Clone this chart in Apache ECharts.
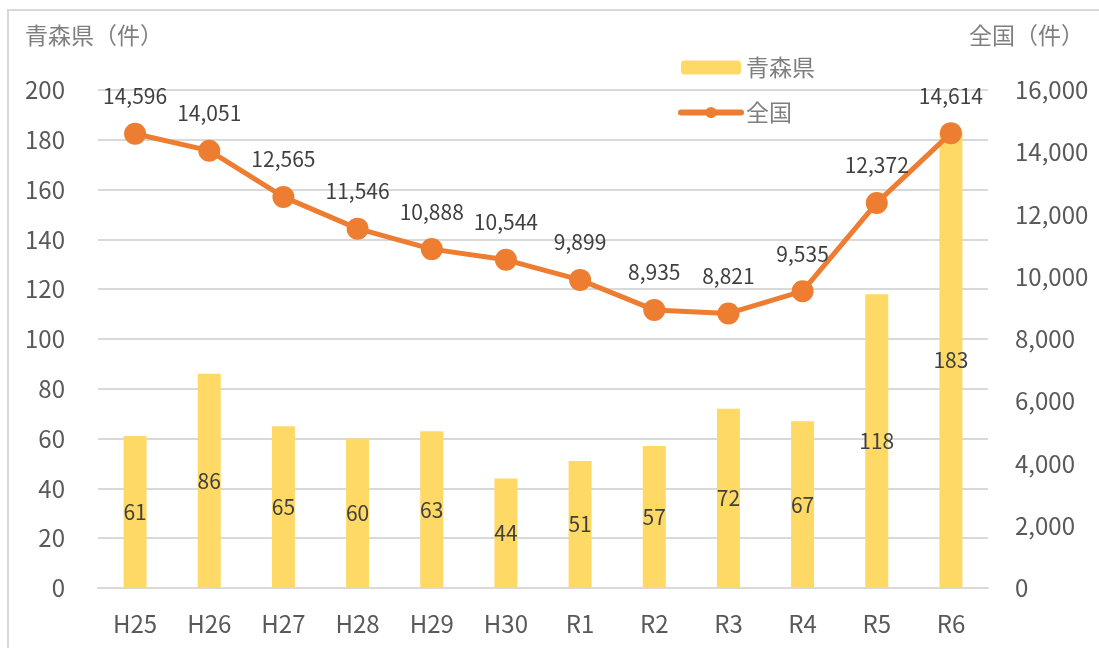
<!DOCTYPE html>
<html lang="ja">
<head>
    <meta charset="UTF-8">
    <title>青森県と全国の件数</title>
    <script src="https://cdn.jsdelivr.net/npm/echarts@6/dist/echarts.min.js"></script>
    <style>
        html, body { margin: 0; padding: 0; background: #fff; }
        #main { width: 1099px; height: 648px; }
    </style>
</head>
<body>
<div id="main"></div>
<script type="text/javascript">
    // 年度
    var years = ['H25', 'H26', 'H27', 'H28', 'H29', 'H30', 'R1', 'R2', 'R3', 'R4', 'R5', 'R6'];
    // 青森県（件）
    var aomori = [61, 86, 65, 60, 63, 44, 51, 57, 72, 67, 118, 183];
    // 全国（件）
    var zenkoku = [14596, 14051, 12565, 11546, 10888, 10544, 9899, 8935, 8821, 9535, 12372, 14614];

    var FONT = '"Noto Sans CJK JP", "Noto Sans", sans-serif';

    var myChart = echarts.init(document.getElementById('main'));

    var option = {
        backgroundColor: '#fff',
        textStyle: { fontFamily: FONT },
        animation: false,
        graphic: [
            {
                type: 'rect',
                shape: { x: 8, y: 10, width: 1200, height: 800 },
                style: { fill: 'none', stroke: '#d9d9d9', lineWidth: 2 },
                silent: true
            },
            {
                type: 'text', left: 25, top: 24,
                style: { text: '青森県（件）', fill: '#7f7f7f', font: '23px ' + FONT }
            },
            {
                type: 'text', left: 969, top: 24,
                style: { text: '全国（件）', fill: '#7f7f7f', font: '23px ' + FONT }
            }
        ],
        legend: {
            orient: 'vertical',
            left: 673,
            top: 51,
            itemWidth: 60,
            itemHeight: 14,
            itemGap: 22,
            textStyle: { color: '#7f7f7f', fontSize: 23, fontFamily: FONT },
            data: [
                { name: '青森県' },
                { name: '全国', lineStyle: { width: 6, cap: 'round' } }
            ]
        },
        grid: { left: 98, right: 111, top: 90, bottom: 60 },
        xAxis: {
            type: 'category',
            data: years,
            axisLine: { lineStyle: { color: '#d9d9d9', width: 2 } },
            axisTick: { show: false },
            axisLabel: { color: '#595959', fontSize: 24, margin: 24, fontFamily: FONT }
        },
        yAxis: [
            {
                type: 'value',
                min: 0, max: 200, interval: 20,
                axisLine: { show: false },
                axisTick: { show: false },
                axisLabel: { color: '#595959', fontSize: 24, margin: 33, fontFamily: FONT },
                splitLine: { lineStyle: { color: '#d9d9d9', width: 2 } }
            },
            {
                type: 'value',
                min: 0, max: 16000, interval: 2000,
                axisLine: { show: false },
                axisTick: { show: false },
                axisLabel: {
                    color: '#595959', fontSize: 24, margin: 27, fontFamily: FONT,
                    formatter: function (v) { return v.toLocaleString('en-US'); }
                },
                splitLine: { show: false }
            }
        ],
        series: [
            {
                name: '青森県',
                type: 'bar',
                yAxisIndex: 0,
                data: aomori,
                barWidth: 23,
                itemStyle: { color: '#ffd966' },
                label: {
                    show: true,
                    position: 'inside',
                    color: '#404040',
                    fontSize: 21,
                    fontFamily: FONT
                }
            },
            {
                name: '全国',
                type: 'line',
                yAxisIndex: 1,
                data: zenkoku,
                symbol: 'circle',
                symbolSize: 22,
                z: 5,
                lineStyle: { color: '#ed7d31', width: 5 },
                itemStyle: { color: '#ed7d31' },
                label: {
                    show: true,
                    position: 'top',
                    distance: 16,
                    color: '#404040',
                    fontSize: 21,
                    fontFamily: FONT,
                    formatter: function (p) { return p.value.toLocaleString('en-US'); }
                }
            }
        ]
    };

    myChart.setOption(option);
</script>
</body>
</html>
